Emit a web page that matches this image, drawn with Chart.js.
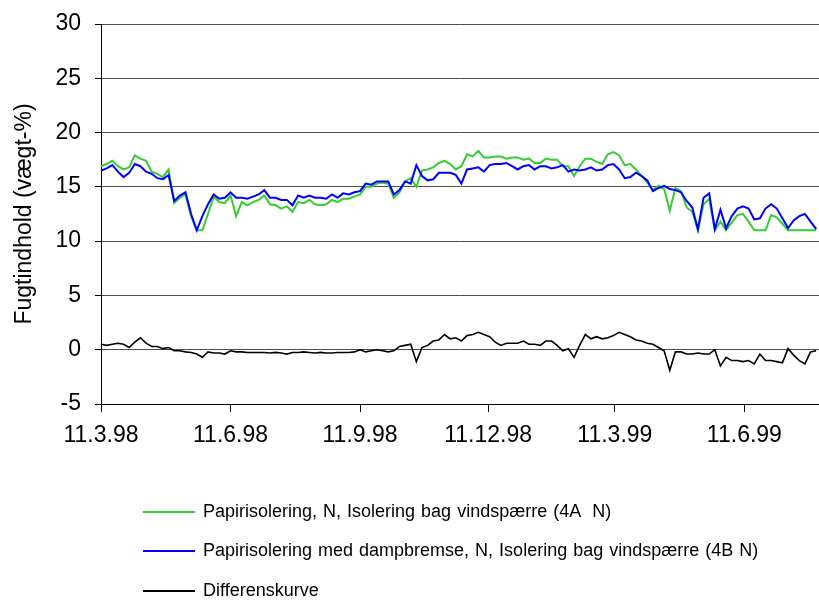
<!DOCTYPE html>
<html>
<head>
<meta charset="utf-8">
<script src="https://cdn.jsdelivr.net/npm/chart.js@4/dist/chart.umd.min.js"></script>
<style>
  html, body { margin: 0; padding: 0; background: #fff; }
  #wrap { position: relative; width: 819px; height: 603px; }
  #legend { position: absolute; left: 143px; top: 0; font-family: "Liberation Sans", Arial, sans-serif; font-size: 18px; word-spacing: 1px; color: #000; }
  .item { position: absolute; left: 0; white-space: pre; display: flex; align-items: center; }
  .swatch { width: 52px; height: 0; border-top: 2px solid; margin-right: 8px; }
</style>
</head>
<body>
<div id="wrap">
  <canvas id="chart" width="819" height="603"></canvas>
  <div id="legend"></div>
</div>
<script>
// days since 11.3.98, one reading every STEP_DAYS
const STEP_DAYS = 4;
const tickDays = [0, 92, 184, 275, 365, 457];
const tickLabels = ["11.3.98", "11.6.98", "11.9.98", "11.12.98", "11.3.99", "11.6.99"];
const seriesNames = [
  "Papirisolering, N, Isolering bag vindspærre (4A  N)",
  "Papirisolering med dampbremse, N, Isolering bag vindspærre (4B N)",
  "Differenskurve",
];

const green = [
  16.9, 17.1, 17.4, 16.9, 16.6, 16.8, 17.9, 17.6, 17.4, 16.4, 16.2, 15.9, 16.6, 13.5, 14.0, 14.3, 12.3, 11.0, 11.0, 12.5, 14.1, 13.6, 13.5, 14.2, 12.3, 13.6,
  13.3, 13.6, 13.8, 14.2, 13.4, 13.3, 13.0, 13.2, 12.7, 13.6, 13.5, 13.8, 13.4, 13.3, 13.4, 13.8, 13.6, 13.9, 13.9, 14.1, 14.3, 15.0, 15.0, 15.3, 15.4, 15.3,
  14.0, 14.5, 15.5, 15.8, 15.0, 16.5, 16.6, 16.8, 17.2, 17.4, 17.1, 16.6, 16.9, 18.0, 17.8, 18.3, 17.7, 17.7, 17.8, 17.8, 17.6, 17.7, 17.7, 17.5, 17.6, 17.2,
  17.2, 17.6, 17.5, 17.5, 16.9, 16.9, 16.0, 16.9, 17.6, 17.6, 17.3, 17.1, 18.0, 18.2, 17.9, 17.0, 17.1, 16.6, 16.0, 15.4, 14.7, 15.1, 14.8, 12.8, 14.9, 14.6,
  13.1, 12.7, 11.0, 13.4, 13.9, 11.0, 11.8, 11.0, 11.7, 12.4, 12.5, 11.8, 11.0, 11.0, 11.0, 12.4, 12.2, 11.6, 11.0, 11.0, 11.0, 11.0, 11.0, 11.0,
];

const blue = [
  16.5, 16.7, 17.0, 16.4, 15.9, 16.3, 17.1, 16.9, 16.4, 16.2, 15.8, 15.7, 16.1, 13.7, 14.2, 14.5, 12.5, 11.0, 12.3, 13.4, 14.3, 13.9, 14.0, 14.5, 14.0, 14.0,
  13.9, 14.1, 14.3, 14.7, 14.0, 14.0, 13.8, 13.8, 13.3, 14.2, 14.0, 14.2, 14.0, 14.0, 13.9, 14.3, 14.0, 14.4, 14.3, 14.5, 14.6, 15.3, 15.2, 15.5, 15.5, 15.5,
  14.3, 14.7, 15.5, 15.3, 17.0, 16.0, 15.6, 15.7, 16.3, 16.3, 16.3, 16.1, 15.3, 16.6, 16.7, 16.8, 16.4, 17.0, 17.1, 17.1, 17.2, 16.9, 16.6, 16.9, 17.0, 16.6,
  16.9, 16.9, 16.7, 16.8, 17.0, 16.4, 16.6, 16.5, 16.6, 16.8, 16.5, 16.6, 17.0, 17.1, 16.6, 15.8, 15.9, 16.3, 16.0, 15.6, 14.6, 14.9, 15.1, 14.8, 14.7, 14.5,
  13.7, 13.1, 11.1, 14.0, 14.4, 11.1, 12.9, 11.2, 12.3, 13.0, 13.2, 13.0, 12.0, 12.1, 13.0, 13.4, 13.0, 12.1, 11.2, 11.9, 12.3, 12.5, 11.8, 11.1,
];

const diff = [
  0.5, 0.4, 0.5, 0.6, 0.5, 0.2, 0.7, 1.1, 0.6, 0.3, 0.3, 0.1, 0.2, -0.1, -0.1, -0.2, -0.25, -0.4, -0.7, -0.2, -0.3, -0.3, -0.4, -0.1, -0.2, -0.2,
  -0.25, -0.25, -0.25, -0.25, -0.3, -0.25, -0.3, -0.4, -0.25, -0.25, -0.2, -0.25, -0.3, -0.25, -0.3, -0.3, -0.25, -0.25, -0.25, -0.2, 0.0, -0.2, -0.1, 0.0, -0.1, -0.2,
  -0.1, 0.3, 0.4, 0.5, -1.1, 0.2, 0.4, 0.8, 0.9, 1.4, 1.0, 1.1, 0.8, 1.3, 1.4, 1.6, 1.4, 1.2, 0.7, 0.4, 0.6, 0.6, 0.6, 0.8, 0.5, 0.5,
  0.4, 0.8, 0.8, 0.4, -0.1, 0.1, -0.7, 0.4, 1.4, 1.0, 1.2, 1.0, 1.1, 1.3, 1.6, 1.4, 1.2, 0.9, 0.8, 0.6, 0.5, 0.2, -0.1, -1.9, -0.2, -0.2,
  -0.4, -0.4, -0.3, -0.4, -0.4, 0.0, -1.5, -0.7, -1.0, -1.0, -1.1, -1.0, -1.3, -0.4, -1.0, -1.0, -1.1, -1.2, 0.1, -0.5, -1.0, -1.3, -0.2, -0.1,
];

const colors = ["#33cc33", "#0000ff", "#000000"];
const FONT = "'Liberation Sans', Arial, sans-serif";

function toPoints(values) {
  return values.map((v, i) => ({ x: i * STEP_DAYS, y: v }));
}

const datasets = [green, blue, diff].map((values, i) => ({
  label: seriesNames[i],
  data: toPoints(values),
  borderColor: colors[i],
  backgroundColor: colors[i],
  borderWidth: i === 2 ? 1.6 : 2,
  pointRadius: 0,
  tension: 0,
  order: [1, 0, 2][i],
}));

const chart = new Chart(document.getElementById("chart").getContext("2d"), {
  type: "line",
  data: { datasets },
  options: {
    responsive: false,
    animation: false,
    layout: { padding: { top: 24, right: 0, bottom: 139, left: 0 } },
    plugins: { legend: { display: false }, tooltip: { enabled: false } },
    scales: {
      x: {
        type: "linear",
        min: 0,
        max: 510,
        afterBuildTicks: (scale) => {
          scale.ticks = tickDays.map((d) => ({ value: d }));
        },
        afterFit: (scale) => { scale.height = 60; },
        ticks: {
          autoSkip: false,
          maxRotation: 0,
          padding: 10,
          color: "#000",
          font: { family: FONT, size: 23 },
          callback: (v) => tickLabels[tickDays.indexOf(v)],
        },
        grid: { drawOnChartArea: false, color: "#000", tickLength: 8 },
        border: { color: "#000", width: 1 },
      },
      y: {
        min: -5,
        max: 30,
        afterFit: (scale) => {
          scale.width = 101;
          // label overhang is covered by the layout padding
          scale.paddingTop = 0;
          scale.paddingBottom = 0;
        },
        ticks: {
          stepSize: 5,
          padding: 14,
          color: "#000",
          font: { family: FONT, size: 23 },
        },
        grid: { color: "#4d4d4d", tickColor: "#000", tickLength: 6 },
        border: { color: "#000", width: 1 },
        title: {
          display: true,
          text: "Fugtindhold (vægt-%)",
          color: "#000",
          font: { family: FONT, size: 23 },
          padding: { top: 11, bottom: 0 },
        },
      },
    },
  },
});

// legend below the chart, one entry per row
const legendTops = [501, 540, 580];
const legendEl = document.getElementById("legend");
chart.data.datasets.forEach((ds, i) => {
  const row = document.createElement("div");
  row.className = "item";
  row.style.top = legendTops[i] + "px";
  const sw = document.createElement("span");
  sw.className = "swatch";
  sw.style.borderTopColor = ds.borderColor;
  const txt = document.createElement("span");
  txt.textContent = ds.label;
  row.appendChild(sw);
  row.appendChild(txt);
  legendEl.appendChild(row);
});
</script>
</body>
</html>
